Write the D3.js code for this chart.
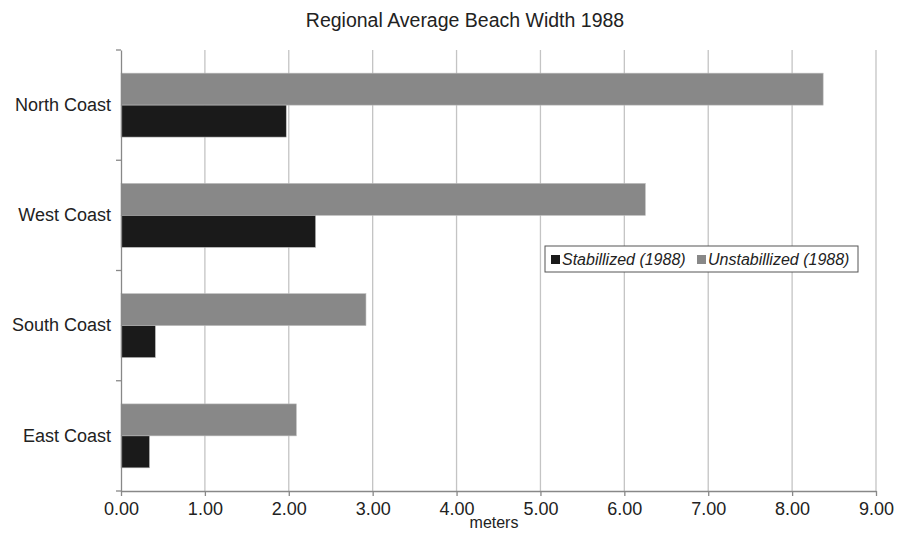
<!DOCTYPE html>
<html>
<head>
<meta charset="utf-8">
<script src="https://cdn.jsdelivr.net/npm/d3@7"></script>
<style>
  body { margin: 0; background: #fff; }
  svg { font-family: "Liberation Sans", Arial, sans-serif; }
</style>
</head>
<body>
<div id="chart"></div>
<script>
// chart data
const regions = ['North Coast', 'West Coast', 'South Coast', 'East Coast'];
const seriesNames = ['Unstabillized (1988)', 'Stabillized (1988)'];
const unstabilized = [8.37, 6.25, 2.92, 2.09];
const stabilized = [1.97, 2.32, 0.41, 0.34];
const xTicks = [0, 1, 2, 3, 4, 5, 6, 7, 8, 9];

const W = 897, H = 533;
const margin = { top: 50, right: 21, bottom: 42, left: 121 };
const iw = W - margin.left - margin.right;
const ih = H - margin.top - margin.bottom;

const colors = { 'Unstabillized (1988)': '#888888', 'Stabillized (1988)': '#1a1a1a' };

const svg = d3.select('#chart').append('svg')
  .attr('width', W)
  .attr('height', H);

svg.append('text')
  .attr('x', 465)
  .attr('y', 27)
  .attr('text-anchor', 'middle')
  .style('font-size', '19.5px')
  .style('fill', '#222')
  .text('Regional Average Beach Width 1988');

const g = svg.append('g').attr('transform', `translate(${margin.left},${margin.top})`);

const x = d3.scaleLinear().domain([0, 9]).range([0, iw]);
const y = d3.scaleBand().domain(regions).range([0, ih]).padding(0);
const inner = d3.scaleBand().domain(seriesNames)
  .range([y.bandwidth() * 0.21, y.bandwidth() * 0.79]);

// gridlines
g.append('g')
  .selectAll('line')
  .data(xTicks.slice(1))
  .join('line')
  .attr('x1', d => x(d)).attr('x2', d => x(d))
  .attr('y1', 0).attr('y2', ih)
  .attr('stroke', '#c4c4c4')
  .attr('stroke-width', 1.3);

// bars
const rows = regions.map((r, i) => ({ region: r, values: [
  { key: seriesNames[0], value: unstabilized[i] },
  { key: seriesNames[1], value: stabilized[i] }
] }));

g.append('g')
  .selectAll('g')
  .data(rows)
  .join('g')
  .attr('transform', d => `translate(0,${y(d.region)})`)
  .selectAll('rect')
  .data(d => d.values)
  .join('rect')
  .attr('x', x(0))
  .attr('y', d => inner(d.key))
  .attr('width', d => x(d.value) - x(0))
  .attr('height', inner.bandwidth())
  .attr('fill', d => colors[d.key])
  .attr('stroke', '#bdbdbd')
  .attr('stroke-width', 0.6);

// x axis
const xAxis = g.append('g')
  .attr('transform', `translate(0,${ih})`)
  .call(d3.axisBottom(x).tickValues(xTicks).tickFormat(d3.format('.2f')).tickSize(5).tickSizeOuter(0));
xAxis.select('.domain').attr('stroke', '#888').attr('stroke-width', 1.3);
xAxis.selectAll('.tick line').attr('stroke', '#888').attr('stroke-width', 1.3);
xAxis.selectAll('.tick text')
  .attr('dy', null)
  .attr('y', 24)
  .style('font-size', '18px')
  .style('font-family', '"Liberation Sans", Arial, sans-serif')
  .style('fill', '#222');

// y axis
const yAxis = g.append('g')
  .call(d3.axisLeft(y).tickSize(0).tickPadding(10));
yAxis.select('.domain').attr('stroke', '#888').attr('stroke-width', 1.3);
yAxis.selectAll('.tick text')
  .style('font-size', '18px')
  .style('font-family', '"Liberation Sans", Arial, sans-serif')
  .style('fill', '#222');

// y boundary ticks between categories
g.append('g')
  .selectAll('line')
  .data(d3.range(regions.length + 1))
  .join('line')
  .attr('x1', -5).attr('x2', 0)
  .attr('y1', i => i * y.step()).attr('y2', i => i * y.step())
  .attr('stroke', '#888')
  .attr('stroke-width', 1.3);

// axis title, kept just inside the bottom edge
svg.append('text')
  .attr('x', 494)
  .attr('y', 528)
  .attr('text-anchor', 'middle')
  .style('font-size', '16px')
  .style('fill', '#222')
  .text('meters');

// legend
const legend = svg.append('g').attr('transform', 'translate(545,246)');
legend.append('rect')
  .attr('width', 313).attr('height', 26)
  .attr('fill', '#fff')
  .attr('stroke', '#555')
  .attr('stroke-width', 1);

const legendItems = [seriesNames[1], seriesNames[0]];
const legendX = [6, 152];
legendItems.forEach((k, i) => {
  legend.append('rect')
    .attr('x', legendX[i]).attr('y', 9)
    .attr('width', 9).attr('height', 9)
    .attr('fill', colors[k]);
  legend.append('text')
    .attr('x', legendX[i] + 11)
    .attr('y', 18.5)
    .style('font-size', '16px')
    .style('font-style', 'italic')
    .style('fill', '#222')
    .text(k);
});
</script>
</body>
</html>
